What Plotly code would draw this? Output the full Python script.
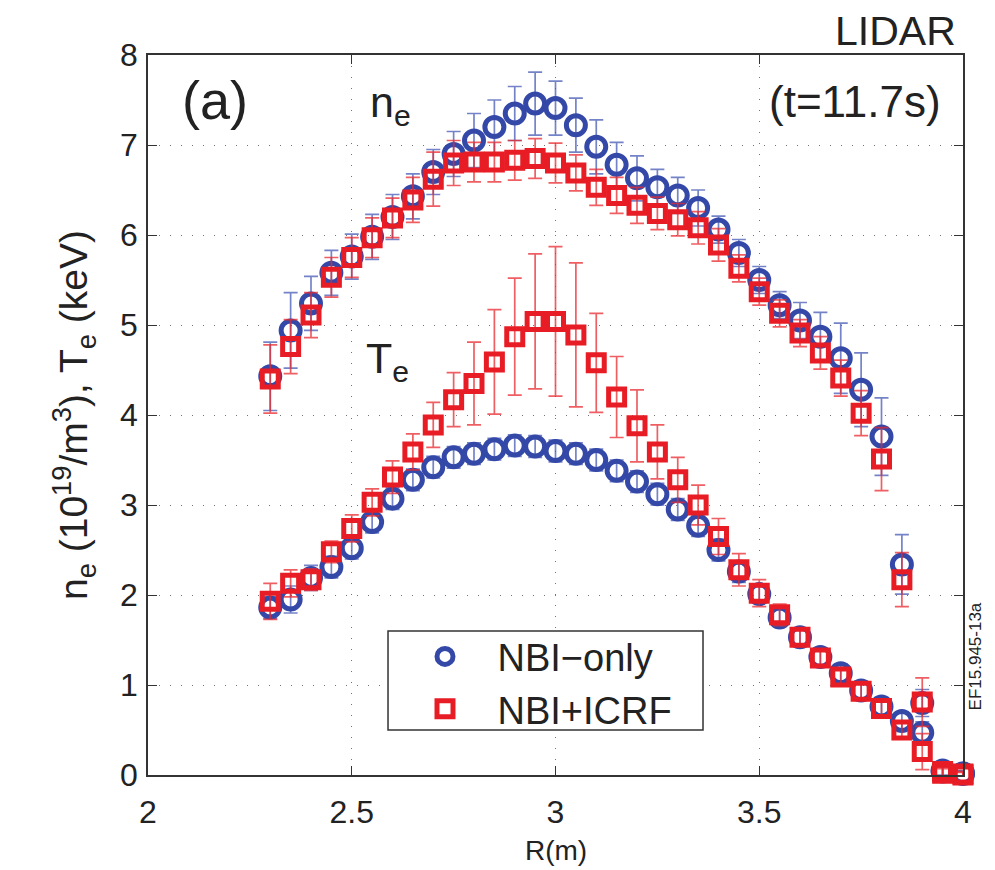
import plotly.graph_objects as go

# ---------------- data ----------------
R = [2.30, 2.35, 2.40, 2.45, 2.50, 2.55, 2.60, 2.65, 2.70, 2.75, 2.80, 2.85,
     2.90, 2.95, 3.00, 3.05, 3.10, 3.15, 3.20, 3.25, 3.30, 3.35, 3.40, 3.45,
     3.50, 3.55, 3.60, 3.65, 3.70, 3.75, 3.80, 3.85, 3.90, 3.95, 4.00]

ne_nbi = [4.43, 4.94, 5.24, 5.58, 5.76, 5.98, 6.20, 6.43, 6.70, 6.90, 7.05, 7.20,
          7.35, 7.46, 7.41, 7.22, 6.98, 6.78, 6.63, 6.53, 6.44, 6.30, 6.06, 5.80,
          5.50, 5.22, 5.05, 4.87, 4.63, 4.28, 3.76, 2.34, 0.80, 0.05, 0.02]
ne_nbi_err = [0.38, 0.42, 0.30, 0.25, 0.25, 0.25, 0.25, 0.25, 0.25, 0.25, 0.30, 0.30,
              0.30, 0.35, 0.30, 0.30, 0.30, 0.25, 0.25, 0.20, 0.20, 0.20, 0.15, 0.15,
              0.15, 0.15, 0.20, 0.27, 0.39, 0.41, 0.43, 0.33, 0.15, 0.05, 0.03]

ne_icrf = [4.40, 4.76, 5.11, 5.53, 5.75, 5.97, 6.19, 6.39, 6.62, 6.80, 6.81, 6.81,
           6.83, 6.85, 6.80, 6.69, 6.53, 6.44, 6.33, 6.24, 6.17, 6.08, 5.89, 5.63,
           5.37, 5.13, 4.91, 4.69, 4.41, 4.02, 3.51, 2.17, 0.81, 0.04, 0.01]
ne_icrf_err = [0.38, 0.30, 0.25, 0.22, 0.22, 0.22, 0.22, 0.25, 0.30, 0.25, 0.22, 0.22,
               0.22, 0.22, 0.22, 0.20, 0.20, 0.20, 0.20, 0.18, 0.18, 0.18, 0.18, 0.15,
               0.15, 0.15, 0.15, 0.18, 0.20, 0.25, 0.35, 0.30, 0.27, 0.05, 0.03]

te_nbi = [1.86, 1.95, 2.19, 2.31, 2.52, 2.81, 3.07, 3.28, 3.42, 3.53, 3.57, 3.62,
          3.66, 3.65, 3.60, 3.57, 3.50, 3.38, 3.26, 3.12, 2.95, 2.77, 2.50, 2.26,
          2.01, 1.75, 1.53, 1.31, 1.13, 0.94, 0.76, 0.60, 0.47, 0.04, 0.01]
te_nbi_err = [0.12, 0.15, 0.14, 0.12, 0.12, 0.12, 0.12, 0.12, 0.12, 0.12, 0.12, 0.12,
              0.12, 0.12, 0.12, 0.12, 0.12, 0.12, 0.12, 0.12, 0.12, 0.12, 0.12, 0.12,
              0.10, 0.10, 0.10, 0.10, 0.10, 0.10, 0.10, 0.10, 0.12, 0.05, 0.03]

te_icrf = [1.93, 2.13, 2.17, 2.48, 2.74, 3.03, 3.31, 3.59, 3.89, 4.17, 4.35, 4.59,
           4.87, 5.04, 5.04, 4.89, 4.58, 4.20, 3.88, 3.59, 3.28, 3.00, 2.65, 2.28,
           2.02, 1.78, 1.53, 1.30, 1.09, 0.93, 0.74, 0.50, 0.26, 0.02, 0.00]
te_icrf_err = [0.20, 0.15, 0.12, 0.12, 0.15, 0.15, 0.18, 0.20, 0.25, 0.30, 0.46, 0.58,
               0.65, 0.75, 0.83, 0.80, 0.55, 0.45, 0.40, 0.30, 0.25, 0.22, 0.20, 0.18,
               0.15, 0.12, 0.10, 0.10, 0.10, 0.10, 0.10, 0.10, 0.20, 0.05, 0.03]

x_ticks = [2, 2.5, 3, 3.5, 4]
x_tick_labels = ["2", "2.5", "3", "3.5", "4"]
y_ticks = [0, 1, 2, 3, 4, 5, 6, 7, 8]

series_names = ["NBI\u2212only", "NBI+ICRF"]

# ---------------- styles ----------------
BLUE = "rgb(52,72,168)"
BLUE_ERR = "rgba(70,90,180,0.75)"
RED = "rgb(232,28,36)"
RED_ERR = "rgba(232,40,45,0.75)"
FONT = "Liberation Sans, Arial, Helvetica, sans-serif"
TXT = "#222222"

fig = go.Figure()


def add_series(y, err, name, color, ecolor, symbol, size, show):
    fig.add_trace(go.Scatter(
        x=R, y=y, mode="markers", name=name, showlegend=show,
        legendgroup=name, cliponaxis=False,
        marker=dict(symbol=symbol, size=size, color=color,
                    line=dict(color=color, width=5)),
        error_y=dict(type="data", array=err, visible=True, color=ecolor,
                     thickness=1.7, width=7),
    ))


add_series(ne_nbi, ne_nbi_err, series_names[0], BLUE, BLUE_ERR, "circle-open", 19, True)
add_series(te_nbi, te_nbi_err, series_names[0], BLUE, BLUE_ERR, "circle-open", 19, False)
add_series(ne_icrf, ne_icrf_err, series_names[1], RED, RED_ERR, "square-open", 16, True)
add_series(te_icrf, te_icrf_err, series_names[1], RED, RED_ERR, "square-open", 16, False)

axis_common = dict(
    showline=True, linecolor="#333333", linewidth=1.5, mirror="ticks",
    ticks="inside", ticklen=9, tickcolor="#333333",
    showgrid=True, gridcolor="rgba(80,80,80,0.8)", griddash="1px,10px", gridwidth=1.3,
    zeroline=False, automargin=False,
    tickfont=dict(family=FONT, size=32, color=TXT),
)

fig.update_xaxes(range=[2, 4], tickvals=x_ticks, ticktext=x_tick_labels,
                 ticklabelstandoff=8, **axis_common)
fig.update_yaxes(range=[0, 8], tickvals=y_ticks, ticklabelstandoff=2,
                 title=dict(text="n<sub>e</sub> (10<sup>19</sup>/m<sup>3</sup>), T<sub>e</sub> (keV)",
                            font=dict(family=FONT, size=39, color=TXT), standoff=20),
                 **axis_common)

annots = [
    dict(text="R(m)", x=0.5, y=-0.105, size=28, xanchor="center"),
    dict(text="(a)", x=0.0825, y=0.9375, size=54, xanchor="center"),
    dict(text="n<sub>e</sub>", x=0.2975, y=0.93, size=43, xanchor="center"),
    dict(text="T<sub>e</sub>", x=0.294, y=0.575, size=43, xanchor="center"),
    dict(text="(t=11.7s)", x=0.9755, y=0.935, size=44, xanchor="right"),
    dict(text="LIDAR", x=0.994, y=1.034, size=41, xanchor="right"),
]
for a in annots:
    fig.add_annotation(text=a["text"], x=a["x"], y=a["y"], xref="paper", yref="paper",
                       xanchor=a["xanchor"], yanchor="middle", showarrow=False,
                       font=dict(family=FONT, size=a["size"], color=TXT))

fig.add_annotation(text="EF15.945-13a", x=1.015, y=0.165, xref="paper", yref="paper",
                   textangle=-90, showarrow=False, xanchor="center", yanchor="middle",
                   font=dict(family=FONT, size=17, color=TXT))

# legend frame
fig.add_shape(type="rect", xref="paper", yref="paper",
              x0=0.2945, x1=0.681, y0=0.0625, y1=0.2,
              line=dict(color="#333333", width=1.5), fillcolor="white", layer="above")

# page body has an 8px margin: shrink the figure so the plot area lands where it should
fig.update_layout(
    width=987, height=862,
    margin=dict(l=140, r=32, t=47, b=95),
    paper_bgcolor="white", plot_bgcolor="white",
    showlegend=True,
    legend=dict(x=0.30, y=0.208, xanchor="left", yanchor="top",
                bgcolor="rgba(0,0,0,0)", borderwidth=0,
                font=dict(family=FONT, size=38, color=TXT),
                itemsizing="trace", tracegroupgap=0, itemwidth=95),
)

fig.write_html("out.html")
